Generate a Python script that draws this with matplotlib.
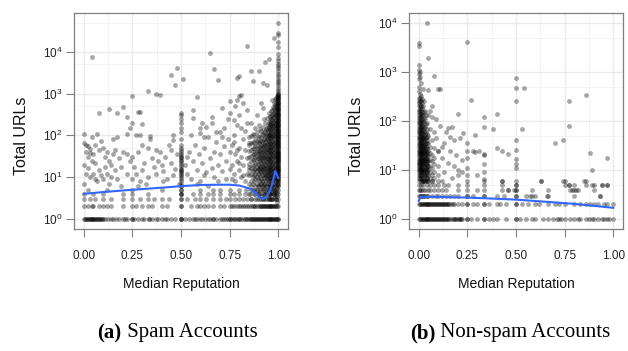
import matplotlib
matplotlib.use("Agg")
import matplotlib.pyplot as plt
import numpy as np
from matplotlib.ticker import FixedLocator, LogFormatterMathtext

plt.rcParams['font.family'] = ['Liberation Sans', 'DejaVu Sans']
plt.rcParams['mathtext.default'] = 'regular'

# ---------------- Spam accounts (panel a) ----------------
spam_row1_x = [0.0, 0.005, 0.01, 0.015, 0.02, 0.025, 0.03, 0.035, 0.04, 0.045, 0.05, 0.055, 0.06, 0.065,
               0.07, 0.075, 0.08, 0.085, 0.09, 0.095, 0.1, 0.11, 0.125, 0.14, 0.15, 0.167, 0.18, 0.2,
               0.21, 0.22, 0.25, 0.25, 0.26, 0.28, 0.3, 0.31, 0.333, 0.333, 0.35, 0.37, 0.38, 0.4, 0.42,
               0.43, 0.45, 0.47, 0.5, 0.5, 0.5, 0.52, 0.54, 0.56, 0.571, 0.58, 0.6, 0.61, 0.625, 0.64,
               0.65, 0.667, 0.667, 0.68, 0.7, 0.71, 0.72, 0.73, 0.74, 0.75, 0.75, 0.76, 0.77, 0.78, 0.79,
               0.8, 0.8, 0.81, 0.82, 0.83, 0.833, 0.84, 0.85, 0.857, 0.86, 0.865, 0.87, 0.875, 0.88,
               0.885, 0.89, 0.895, 0.9, 0.905, 0.91, 0.915, 0.92, 0.925, 0.93, 0.935, 0.94, 0.945, 0.95,
               0.955, 0.96, 0.965, 0.97, 0.975, 0.98, 0.985, 0.99, 0.995, 1.0, 1.0]
spam_row2_x = [0.0, 0.02, 0.04, 0.05, 0.08, 0.1, 0.12, 0.14, 0.2, 0.25, 0.27, 0.3, 0.33, 0.35, 0.4,
               0.43, 0.5, 0.5, 0.55, 0.58, 0.6, 0.62, 0.64, 0.667, 0.7, 0.72, 0.75, 0.76, 0.77, 0.79,
               0.8, 0.81, 0.82, 0.83, 0.84, 0.85, 0.86, 0.87, 0.875, 0.88, 0.89, 0.9, 0.905, 0.91, 0.915,
               0.92, 0.925, 0.93, 0.935, 0.94, 0.945, 0.95, 0.955, 0.96, 0.965, 0.97, 0.975, 0.98,
               0.985, 0.99, 0.995, 1.0]
spam_row3_x = [0.0, 0.03, 0.06, 0.1, 0.14, 0.2, 0.25, 0.29, 0.33, 0.36, 0.4, 0.44, 0.5, 0.5, 0.53,
               0.57, 0.6, 0.63, 0.667, 0.7, 0.73, 0.75, 0.78, 0.8, 0.82, 0.84, 0.86, 0.88, 0.9, 0.91,
               0.92, 0.93, 0.94, 0.95, 0.96, 0.97, 0.98, 0.99, 1.0]
spam_row4_x = [0.0, 0.05, 0.1, 0.2, 0.25, 0.33, 0.5, 0.5, 0.56, 0.6, 0.64, 0.667, 0.7, 0.75, 0.77,
               0.8, 0.83, 0.857, 0.875, 0.9, 0.92, 0.93, 0.95, 0.96, 0.98, 1.0]
spam_row5_x = [0.02, 0.12, 0.25, 0.4, 0.5, 0.6, 0.667, 0.7, 0.75, 0.8, 0.833, 0.86, 0.89, 0.92, 0.95,
               0.98, 1.0]
spam_col_half_y = [4, 5, 6, 6, 7, 8, 9, 10, 11, 12, 13, 14, 15, 16, 18, 20, 22, 24, 26, 28, 30, 33,
                   36, 40, 45, 50, 60, 80, 120, 150, 200, 250, 300]
spam_col_one_y = [6, 7, 8, 9, 10, 11, 12, 13, 14, 15, 16, 17, 18, 20, 22, 24, 26, 28, 30, 32, 35, 38,
                  41, 45, 50, 55, 60, 65, 70, 76, 83, 90, 100, 110, 120, 130, 145, 160, 175, 190, 210,
                  230, 250, 275, 300, 330, 360, 400, 440, 480, 530, 580, 640, 700, 770, 850, 930, 1000,
                  1100, 1250, 1400, 1600, 1800, 2000, 2300, 2700, 3000, 3500, 4000, 4500, 5000, 6000,
                  7000, 9000, 13000, 17000, 25000, 28000, 50000]
spam_cloud_cols = [0.997, 0.99, 0.98, 0.97, 0.96, 0.95, 0.94, 0.93, 0.92, 0.91, 0.90, 0.89, 0.88, 0.87,
                   0.86, 0.85, 0.995, 0.985, 0.975, 0.965, 0.955, 0.945, 0.935, 0.925, 0.915, 0.905,
                   0.895, 0.875]
spam_cloud_y = [
    [6.5, 7.5, 8.5, 9.5, 10.5, 12, 14, 16.5, 19, 21, 23, 25, 27, 29, 31, 33.5, 36.5, 39.5, 43, 47, 52,
     57, 62, 67, 73, 80, 86, 95, 105, 115, 125, 138, 152, 168, 182, 200, 220, 240, 262, 288, 315, 345,
     380, 420, 460, 505, 555, 610, 670, 735, 810, 890, 960],
    [3, 4, 5, 6, 8, 10, 13, 17, 22, 28, 35, 45, 60, 75, 95, 120, 150, 190, 240, 300, 380, 480, 600, 800],
    [4, 5, 7, 9, 11, 14, 18, 23, 30, 38, 48, 62, 80, 100, 130, 170, 210, 270, 350, 450, 600],
    [3, 5, 6, 8, 10, 12, 16, 20, 25, 32, 40, 52, 66, 85, 110, 140, 180, 230, 300, 400, 700],
    [4, 6, 7, 9, 12, 15, 19, 24, 31, 40, 50, 65, 85, 105, 135, 175, 220, 290],
    [3, 5, 8, 10, 13, 17, 21, 27, 34, 44, 56, 72, 95, 120, 160, 210, 350],
    [4, 6, 9, 11, 14, 18, 23, 29, 37, 48, 62, 80, 110, 150, 260],
    [5, 7, 10, 12, 16, 20, 26, 33, 42, 55, 70, 90, 130, 200],
    [3, 6, 8, 11, 15, 19, 25, 31, 40, 52, 68, 100, 160, 450],
    [5, 7, 9, 13, 17, 22, 28, 36, 46, 60, 85, 130, 600],
    [4, 6, 8, 12, 16, 20, 27, 35, 45, 65, 90, 180],
    [3, 5, 7, 10, 14, 18, 24, 32, 42, 55, 75, 120, 300],
    [4, 6, 9, 12, 16, 22, 30, 40, 55, 80, 150],
    [5, 7, 10, 14, 19, 26, 35, 50, 70, 110],
    [3, 6, 8, 12, 17, 24, 33, 45, 65, 95, 200],
    [4, 7, 11, 15, 21, 30, 42, 60, 90],
    [2.5, 3.5, 4.5, 5.5, 7, 9, 11.5, 15, 19, 25, 32, 40, 52, 68, 85, 110, 135, 170, 215, 270, 340, 430,
     540, 700, 900],
    [3.5, 4.5, 6, 8, 10, 12.5, 16, 20, 26, 33, 42, 55, 70, 90, 115, 150, 190, 240, 310, 400, 520, 750],
    [4, 5.5, 7, 9, 11, 14, 18, 22, 28, 36, 46, 58, 75, 95, 125, 160, 200, 260, 330, 480],
    [3, 4.5, 6, 8, 10, 13, 16, 21, 27, 35, 44, 57, 75, 95, 120, 155, 200, 250, 380],
    [4, 5.5, 7, 9.5, 12, 15, 19, 25, 31, 40, 52, 66, 85, 110, 140, 190, 280],
    [3.5, 5, 7, 8.5, 11, 14, 18, 23, 29, 37, 48, 62, 80, 100, 135, 180],
    [4.5, 6, 8, 10.5, 13, 17, 22, 28, 36, 46, 60, 78, 100, 140],
    [4, 5.5, 7, 9.5, 13, 17, 21, 28, 35, 45, 58, 80, 120, 250],
    [3.5, 6, 8, 11, 15, 19, 25, 32, 42, 55, 75, 110],
    [5, 7, 10, 14, 18, 24, 31, 40, 52, 75, 140],
    [4, 6, 9, 12, 16, 21, 28, 37, 50, 70, 95],
    [5, 8, 11, 15, 20, 27, 36, 48, 65, 100],
]
spam_pts = [
    (0.04, 7600), (0.65, 9500), (0.84, 13800), (0.98, 21000), (0.93, 5700), (0.95, 6700),
    (0.86, 3400), (0.90, 3500), (0.92, 1750), (0.94, 1600), (0.87, 1950), (0.79, 2350), (0.80, 2600),
    (0.45, 2750), (0.48, 4000), (0.51, 2300), (0.47, 1600), (0.67, 3800), (0.69, 2100), (0.33, 1170),
    (0.37, 1000), (0.39, 950), (0.25, 900), (0.58, 850), (0.75, 680), (0.79, 710), (0.80, 890),
    (0.81, 930), (0.08, 350), (0.13, 440), (0.17, 350), (0.20, 490), (0.22, 280), (0.28, 360),
    (0.29, 370), (0.25, 200), (0.30, 190), (0.50, 350), (0.56, 400), (0.56, 260), (0.61, 200),
    (0.63, 160), (0.66, 280), (0.71, 450), (0.75, 340), (0.77, 235), (0.0, 110), (0.07, 110),
    (0.17, 90), (0.22, 107), (0.29, 102), (0.34, 98), (0.46, 102), (0.46, 78), (0.60, 112),
    (0.62, 93), (0.68, 123), (0.71, 93),
    (0.0, 65), (0.01, 60), (0.02, 55), (0.03, 48), (0.01, 40), (0.03, 38), (0.05, 35), (0.02, 30),
    (0.04, 25), (0.06, 22), (0.0, 20), (0.02, 17), (0.08, 45), (0.06, 60), (0.09, 75), (0.10, 50),
    (0.12, 40), (0.11, 30), (0.13, 25), (0.15, 35), (0.14, 20), (0.16, 15), (0.12, 12), (0.08, 15),
    (0.05, 12), (0.03, 10), (0.0, 7), (0.07, 8), (0.10, 9), (0.13, 7), (0.17, 9), (0.19, 6),
    (0.18, 28), (0.20, 40), (0.04, 90), (0.15, 80), (0.11, 18), (0.09, 11), (0.06, 9), (0.16, 45),
    (0.19, 18), (0.01, 12), (0.14, 10),
    (0.22, 35), (0.24, 25), (0.25, 30), (0.26, 18), (0.27, 12), (0.28, 40), (0.25, 9), (0.29, 8),
    (0.30, 15), (0.31, 22), (0.33, 50), (0.33, 10), (0.35, 28), (0.36, 18), (0.37, 12), (0.38, 25),
    (0.39, 40), (0.40, 20), (0.41, 14), (0.42, 30), (0.43, 9), (0.44, 60), (0.45, 22), (0.46, 11),
    (0.47, 16), (0.48, 35), (0.49, 7), (0.34, 80), (0.30, 60), (0.27, 100), (0.24, 150), (0.37, 45),
    (0.41, 8), (0.22, 12), (0.28, 6), (0.45, 45), (0.32, 7),
    (0.52, 20), (0.53, 12), (0.54, 40), (0.55, 9), (0.56, 25), (0.57, 60), (0.58, 15), (0.59, 35),
    (0.60, 8), (0.61, 22), (0.62, 50), (0.63, 13), (0.64, 90), (0.65, 28), (0.66, 17), (0.67, 40),
    (0.67, 10), (0.68, 70), (0.69, 20), (0.70, 120), (0.70, 35), (0.71, 14), (0.72, 55), (0.73, 25),
    (0.73, 9), (0.74, 80), (0.75, 40), (0.75, 16), (0.55, 100), (0.60, 150), (0.66, 200), (0.58, 7),
    (0.64, 6), (0.69, 8), (0.53, 30), (0.62, 11), (0.72, 150), (0.74, 250),
    (0.76, 20), (0.76, 60), (0.77, 12), (0.77, 100), (0.78, 35), (0.78, 8), (0.79, 25), (0.79, 180),
    (0.80, 50), (0.80, 15), (0.80, 300), (0.81, 30), (0.81, 10), (0.82, 80), (0.82, 20), (0.83, 45),
    (0.83, 130), (0.84, 12), (0.84, 28), (0.84, 400), (0.85, 65), (0.85, 18), (0.78, 500), (0.82, 600),
    (0.76, 9), (0.79, 45), (0.81, 150), (0.83, 8), (0.77, 70), (0.80, 22), (0.84, 200), (0.82, 11),
]
spam_smooth_x = [0.0, 0.1, 0.2, 0.3, 0.4, 0.5, 0.6, 0.7, 0.75, 0.8, 0.85, 0.88, 0.9, 0.92, 0.94,
                 0.96, 0.975, 0.985, 1.0]
spam_smooth_y = [4.0, 4.4, 4.8, 5.2, 5.6, 6.1, 6.5, 6.6, 6.6, 6.3, 5.4, 4.3, 3.4, 3.0, 3.4, 5.0,
                 9.0, 14.0, 9.5]

# ---------------- Non-spam accounts (panel b) ----------------
ns_row1_x = [0.0, 0.005, 0.01, 0.015, 0.02, 0.025, 0.03, 0.035, 0.04, 0.045, 0.05, 0.055, 0.06, 0.065,
             0.07, 0.075, 0.08, 0.085, 0.09, 0.095, 0.1, 0.105, 0.11, 0.115, 0.12, 0.125, 0.13, 0.135,
             0.14, 0.145, 0.15, 0.155, 0.167, 0.175, 0.18, 0.185, 0.19, 0.2, 0.205, 0.21, 0.215, 0.22,
             0.25, 0.25, 0.27, 0.3, 0.333, 0.333, 0.36, 0.38, 0.4, 0.45, 0.5, 0.5, 0.52, 0.55, 0.58,
             0.6, 0.64, 0.667, 0.69, 0.71, 0.72, 0.73, 0.75, 0.78, 0.8, 0.82, 0.83, 0.86, 0.875, 0.89,
             0.9, 0.92, 0.94, 0.95, 0.97, 0.98, 1.0]
ns_row2_x = [0.0, 0.005, 0.01, 0.015, 0.02, 0.025, 0.03, 0.035, 0.04, 0.045, 0.05, 0.055, 0.06, 0.065,
             0.07, 0.075, 0.08, 0.085, 0.09, 0.095, 0.1, 0.105, 0.11, 0.115, 0.12, 0.125, 0.13, 0.135,
             0.14, 0.145, 0.15, 0.155, 0.167, 0.175, 0.18, 0.2, 0.22, 0.25, 0.25, 0.28, 0.3, 0.333,
             0.333, 0.36, 0.4, 0.42, 0.45, 0.5, 0.5, 0.53, 0.56, 0.6, 0.62, 0.667, 0.7, 0.72, 0.75,
             0.8, 0.83, 0.86, 0.88, 0.9, 0.92, 0.95, 0.97, 1.0]
ns_row3_x = [0.0, 0.005, 0.01, 0.015, 0.02, 0.025, 0.03, 0.04, 0.05, 0.07, 0.09, 0.1, 0.12, 0.14, 0.16,
             0.18, 0.2, 0.25, 0.25, 0.28, 0.333, 0.333, 0.4, 0.44, 0.5, 0.5, 0.57, 0.6, 0.667, 0.8, 0.93]
ns_row4_x = [0.0, 0.005, 0.01, 0.02, 0.03, 0.05, 0.06, 0.08, 0.1, 0.12, 0.14, 0.2, 0.25, 0.3, 0.333,
             0.43, 0.46, 0.5, 0.5, 0.58, 0.667, 0.78, 0.79, 0.81, 0.9]
ns_row5_x = [0.0, 0.01, 0.02, 0.04, 0.06, 0.08, 0.1, 0.13, 0.15, 0.2, 0.25, 0.333, 0.43, 0.5, 0.5,
             0.75, 0.77, 0.8, 0.86, 0.9, 0.94, 0.97]
ns_row6_x = [0.0, 0.02, 0.04, 0.07, 0.12, 0.25, 0.333, 0.43, 0.5, 0.63, 0.74, 0.85]
ns_cloud_cols = [0.0, 0.01, 0.02, 0.03, 0.04, 0.05, 0.06, 0.07, 0.08, 0.1,
                 0.005, 0.015, 0.025, 0.035, 0.045]
ns_cloud_y = [
    [7, 8, 9, 10, 11, 12, 13, 14, 15, 17, 19, 21, 23, 26, 29, 32, 36, 40, 45, 50, 56, 63, 70, 80, 90,
     100, 115, 130, 150, 170, 200, 230, 260, 300, 400, 500, 700, 900, 1100, 1400, 3300, 3800],
    [6, 7, 8, 9, 10, 11, 12, 14, 16, 18, 20, 22, 25, 28, 31, 35, 39, 44, 50, 57, 65, 75, 85, 100, 120,
     140, 170, 200, 250, 320, 600],
    [6, 7, 9, 10, 12, 14, 16, 18, 21, 24, 27, 31, 35, 40, 46, 55, 65, 80, 100, 130, 200, 450],
    [6, 8, 10, 12, 14, 17, 20, 24, 28, 34, 42, 55, 75, 110, 160],
    [6, 7, 9, 11, 13, 16, 19, 23, 30, 40, 55, 90],
    [6, 8, 10, 12, 15, 19, 25, 35, 50, 130],
    [7, 9, 12, 16, 22, 30, 70],
    [6, 8, 11, 15, 20, 40],
    [7, 9, 13, 18, 28],
    [6, 8, 12, 25],
    [6.5, 7.5, 8.5, 9.5, 10.5, 11.5, 13, 14.5, 16, 18, 20, 22, 24, 27, 30, 34, 38, 42, 47, 53, 60, 67,
     75, 85, 95, 108, 122, 140, 160, 185, 215, 250, 290, 350, 800, 1000],
    [6, 7, 8, 9, 10, 11, 12.5, 14, 15.5, 17, 19, 21, 23.5, 26, 29, 33, 37, 42, 48, 54, 62, 70, 80, 95,
     110, 130, 155, 180, 230, 280],
    [6, 7.5, 8.5, 9.5, 11, 13, 15, 17, 19.5, 22, 25, 29, 33, 38, 44, 50, 60, 72, 90, 115, 150, 250],
    [6.5, 8, 9.5, 11, 13, 15.5, 18, 21, 25, 30, 36, 45, 60, 85, 130],
    [7, 8.5, 10, 12, 14.5, 17, 21, 27, 35, 48, 70],
]
ns_pts = [
    (0.04, 10000), (0.25, 4000), (0.05, 1900), (0.5, 740), (0.5, 460), (0.54, 470), (0.5, 260),
    (0.27, 270), (0.77, 250), (0.86, 340), (0.77, 80), (0.08, 830), (0.10, 440), (0.11, 450),
    (0.05, 430), (0.20, 137), (0.40, 137), (0.333, 118), (0.333, 76), (0.38, 70), (0.53, 69),
    (0.17, 74), (0.15, 72), (0.23, 58), (0.29, 52), (0.16, 47), (0.18, 40), (0.40, 28), (0.43, 24),
    (0.46, 21), (0.5, 40), (0.5, 26), (0.5, 17), (0.5, 13), (0.5, 11), (0.333, 21), (0.333, 20),
    (0.333, 13), (0.333, 9), (0.333, 6.5), (0.25, 35), (0.25, 25), (0.25, 18), (0.25, 11), (0.25, 8),
    (0.70, 35), (0.74, 41), (0.88, 22), (0.97, 18), (0.89, 10), (0.63, 6), (0.75, 6), (0.77, 5),
    (0.80, 4), (0.82, 4), (0.86, 6), (0.89, 5), (0.94, 5), (0.97, 5), (0.93, 3), (0.43, 6),
    (0.46, 4), (0.49, 4), (0.55, 3), (0.58, 3), (0.66, 3), (0.12, 30), (0.14, 60), (0.09, 110),
    (0.07, 200), (0.06, 160), (0.10, 25), (0.12, 18), (0.15, 14), (0.18, 12), (0.20, 10), (0.22, 16),
    (0.13, 9), (0.17, 7), (0.20, 8), (0.28, 25), (0.29, 23), (0.31, 24), (0.22, 9), (0.16, 25),
    (0.19, 20), (0.08, 60), (0.11, 80), (0.13, 35), (0.09, 45), (0.07, 120), (0.21, 45), (0.30, 8),
]
ns_smooth_x = [0.0, 0.01, 0.1, 0.25, 0.4, 0.5, 0.66, 0.8, 1.0]
ns_smooth_y = [2.35, 2.85, 2.83, 2.75, 2.6, 2.5, 2.25, 2.05, 1.7]

x_ticks = [0.0, 0.25, 0.5, 0.75, 1.0]
x_tick_labels = ["0.00", "0.25", "0.50", "0.75", "1.00"]
y_ticks = [1, 10, 100, 1000, 10000]
captions = [("(a)", " Spam Accounts"), ("(b)", " Non-spam Accounts")]


def collect(rows, col_x, col_y, cloud_cols, cloud_y, pts):
    xs, ys = [], []
    for level, rx in rows:
        xs += list(rx)
        ys += [level] * len(rx)
    for cx, cy in zip(col_x, col_y):
        xs += [cx] * len(cy)
        ys += list(cy)
    for cx, cy in zip(cloud_cols, cloud_y):
        xs += [cx] * len(cy)
        ys += list(cy)
    xs += [p[0] for p in pts]
    ys += [p[1] for p in pts]
    return np.array(xs), np.array(ys, dtype=float)


spam_x, spam_y = collect(
    [(1, spam_row1_x), (2, spam_row2_x), (3, spam_row3_x), (4, spam_row4_x), (5, spam_row5_x)],
    [0.5, 1.0], [spam_col_half_y, spam_col_one_y], spam_cloud_cols, spam_cloud_y, spam_pts)
ns_x, ns_y = collect(
    [(1, ns_row1_x), (2, ns_row2_x), (3, ns_row3_x), (4, ns_row4_x), (5, ns_row5_x), (6, ns_row6_x)],
    [], [], ns_cloud_cols, ns_cloud_y, ns_pts)

W, H = 628, 351
fig = plt.figure(figsize=(W / 100, H / 100), dpi=100)

panels = [
    dict(left=74, x=spam_x, y=spam_y, sx=spam_smooth_x, sy=spam_smooth_y, ylim=(0.575, 85000)),
    dict(left=409, x=ns_x, y=ns_y, sx=ns_smooth_x, sy=ns_smooth_y, ylim=(0.63, 15800)),
]
ax_w, ax_top, ax_bot = 214, 13, 229
grid_c = '#ebebeb'
edge_c = '#7f7f7f'

for p in panels:
    ax = fig.add_axes([p['left'] / W, (H - ax_bot) / H, ax_w / W, (ax_bot - ax_top) / H])
    ax.set_yscale('log')
    ax.set_xlim(-0.05, 1.05)
    ax.set_ylim(*p['ylim'])
    ax.scatter(p['x'], p['y'], s=12, color='black', alpha=0.35, linewidths=0, zorder=3)
    ax.plot(p['sx'], p['sy'], color='#3366ff', lw=1.5, zorder=4)
    ax.xaxis.set_major_locator(FixedLocator(x_ticks))
    ax.set_xticklabels(x_tick_labels)
    ax.xaxis.set_minor_locator(FixedLocator([0.125, 0.375, 0.625, 0.875]))
    ax.yaxis.set_major_locator(FixedLocator(y_ticks))
    ax.yaxis.set_major_formatter(LogFormatterMathtext())
    ax.yaxis.set_minor_locator(FixedLocator([5, 50, 500, 5000, 50000]))
    ax.grid(True, which='major', color=grid_c, lw=1.0, zorder=0)
    ax.grid(True, which='minor', color='#f3f3f3', lw=0.7, zorder=0)
    ax.set_axisbelow(True)
    for s in ax.spines.values():
        s.set_color(edge_c)
        s.set_linewidth(0.9)
    ax.tick_params(which='major', length=6, width=0.8, color=edge_c, labelsize=8.5,
                   labelcolor='#222222')
    ax.tick_params(axis='y', which='major', pad=2)
    ax.tick_params(axis='x', which='major', pad=9)
    ax.tick_params(which='minor', length=0)
    ax.set_xlabel('Median Reputation', fontsize=10, color='#111111', labelpad=11)
    ax.set_ylabel('Total URLs', fontsize=11.5, color='#111111')
    ax.yaxis.set_label_coords(-45 / ax_w, 0.43)

# captions: bold label + regular text, centered together
fig.canvas.draw()
renderer = fig.canvas.get_renderer()
for (bold, rest), cx in zip(captions, [177.5, 510]):
    t1 = fig.text(0, 0, bold, fontsize=15, fontweight='bold', family='Liberation Serif')
    t2 = fig.text(0, 0, rest, fontsize=15, family='Liberation Serif')
    w1 = t1.get_window_extent(renderer).width
    w2 = t2.get_window_extent(renderer).width
    x0 = cx - (w1 + w2) / 2
    yc = (H - 333) / H
    t1.set_position((x0 / W, yc))
    t1.set_va('center')
    t2.set_position(((x0 + w1) / W, yc))
    t2.set_va('center')

fig.savefig('out.png', dpi=100)
